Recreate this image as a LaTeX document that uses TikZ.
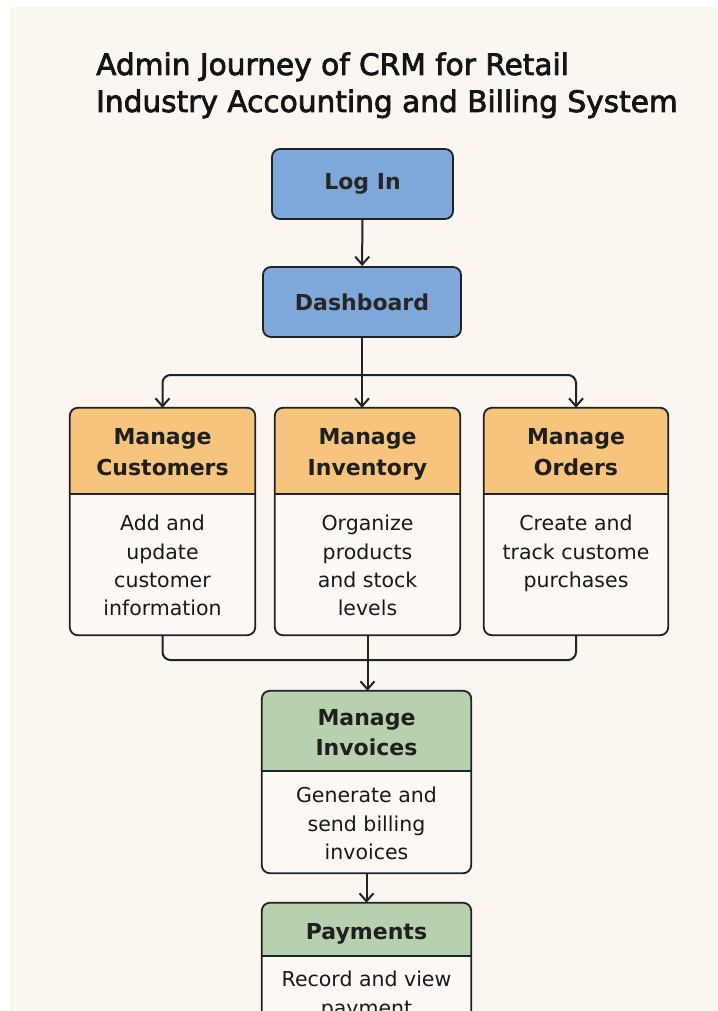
\documentclass[tikz,border=0pt]{standalone}
\usepackage{fontspec}
\setmainfont{DejaVu Sans}
\newfontfamily\titlefont{DejaVu Sans}[FakeBold=2.5]
\newfontfamily\hdfont{DejaVu Sans Bold}
\usetikzlibrary{arrows.meta}
\definecolor{panelbg}{HTML}{FCF6F1}
\definecolor{bluefill}{HTML}{7EA8DA}
\definecolor{orangefill}{HTML}{F7C47D}
\definecolor{greenfill}{HTML}{B7D0AE}
\definecolor{bodyfill}{HTML}{FDF9F5}
\definecolor{inkline}{HTML}{1F2226}
\tikzset{
  boxline/.style={draw=inkline, line width=1.8pt},
  boxshape/.style={rectangle, inner sep=0pt, minimum width=#1},
  topbox/.style={rectangle, draw=inkline, line width=1.8pt, fill=bluefill, rounded corners=8pt,
    inner sep=0pt, minimum height=70pt, font=\hdfont\fontsize{22}{28}\selectfont, text=black!85},
  hdtext/.style={align=center, inner sep=0pt, font=\hdfont\fontsize{22}{30.5}\selectfont, text=black!88},
  bodytext/.style={align=center, inner sep=0pt, anchor=north, font=\fontsize{20.5}{28.4}\selectfont, text=black!90},
  titletext/.style={anchor=base west, inner sep=0pt, font=\titlefont\fontsize{29.6}{36}\selectfont, text=black!92},
  conn/.style={draw=inkline, line width=2pt},
  arr/.style={-{Straight Barb[length=8pt,width=14pt,line width=2pt]}},
}
\newcommand\splitbox[3]{%
  \begin{scope}
    \clip[rounded corners=8pt] (#1.south west) rectangle (#1.north east);
    \fill[bodyfill] (#1.south west) rectangle (#1.north east);
    \fill[#3] (#1.north west) rectangle (#1.east |- 0,#2);
  \end{scope}
  \draw[boxline] (#1.west |- 0,#2) -- (#1.east |- 0,#2);
  \draw[boxline, rounded corners=8pt] (#1.south west) rectangle (#1.north east);
}
\begin{document}
\begin{tikzpicture}[x=1pt,y=-1pt]
\useasboundingbox (0,0) rectangle (717,1011);
\fill[white] (0,0) rectangle (717,1011);
\fill[panelbg] (10,7) rectangle (717,1011);
\clip (0,0) rectangle (717,1011);

% title
\node[titletext] (title1) at (96,75) {Admin Journey of CRM for Retail};
\node[titletext] (title2) at (96,112) {Industry Accounting and Billing System};

% top boxes
\node[topbox, minimum width=181pt] (login) at (362.5,184) {Log In};
\node[topbox, minimum width=198pt] (dash) at (362,302) {Dashboard};

% three module boxes
\node[boxshape=185pt, minimum height=227pt] (cust) at (162.5,521.5) {};
\node[boxshape=185pt, minimum height=227pt] (inv) at (367.5,521.5) {};
\node[boxshape=184pt, minimum height=227pt] (ord) at (576,521.5) {};
\splitbox{cust}{494}{orangefill}
\splitbox{inv}{494}{orangefill}
\splitbox{ord}{494}{orangefill}

\node[hdtext] (custh) at (162.5,454) {\strut Manage\\Customers\strut};
\node[hdtext] (invh) at (367.5,454) {\strut Manage\\Inventory\strut};
\node[hdtext] (ordh) at (576,454) {\strut Manage\\Orders\strut};
\node[bodytext] (custt) at (162.5,515) {Add and\\update\\customer\\information};
\node[bodytext] (invt) at (367.5,515) {Organize\\products\\and stock\\levels};
\node[bodytext] (ordt) at (576,515) {Create and\\track custome\\purchases};

% invoices and payments
\node[boxshape=209pt, minimum height=182pt] (invc) at (366.5,782) {};
\node[boxshape=209pt, minimum height=127pt] (pay) at (366.5,966.5) {};
\splitbox{invc}{771}{greenfill}
\splitbox{pay}{956}{greenfill}

\node[hdtext] (invch) at (366.5,734.5) {\strut Manage\\Invoices\strut};
\node[bodytext] (invct) at (366.5,787) {Generate and\\send billing\\invoices};
\node[hdtext] (payh) at (366.5,933) {\strut Payments};
\node[bodytext] (payt) at (366.5,971) {Record and view\\payment};

% connectors
\draw[conn, arr] (login) -- (dash);
\coordinate (split) at (362,375);
\draw[conn] (dash.south) -- (split);
\draw[conn, arr, rounded corners=8pt] (split) -| (cust.north);
\draw[conn, arr] (split) -- (split |- inv.north);
\draw[conn, arr, rounded corners=8pt] (split) -| (ord.north);

\coordinate (merge) at (367.5,660);
\draw[conn, rounded corners=8pt] (cust.south) |- (merge);
\draw[conn, rounded corners=8pt] (ord.south) |- (merge);
\draw[conn, arr] (inv.south) -- (inv.south |- invc.north);
\draw[conn, arr] (invc.south) -- (invc.south |- pay.north);
\end{tikzpicture}
\end{document}
